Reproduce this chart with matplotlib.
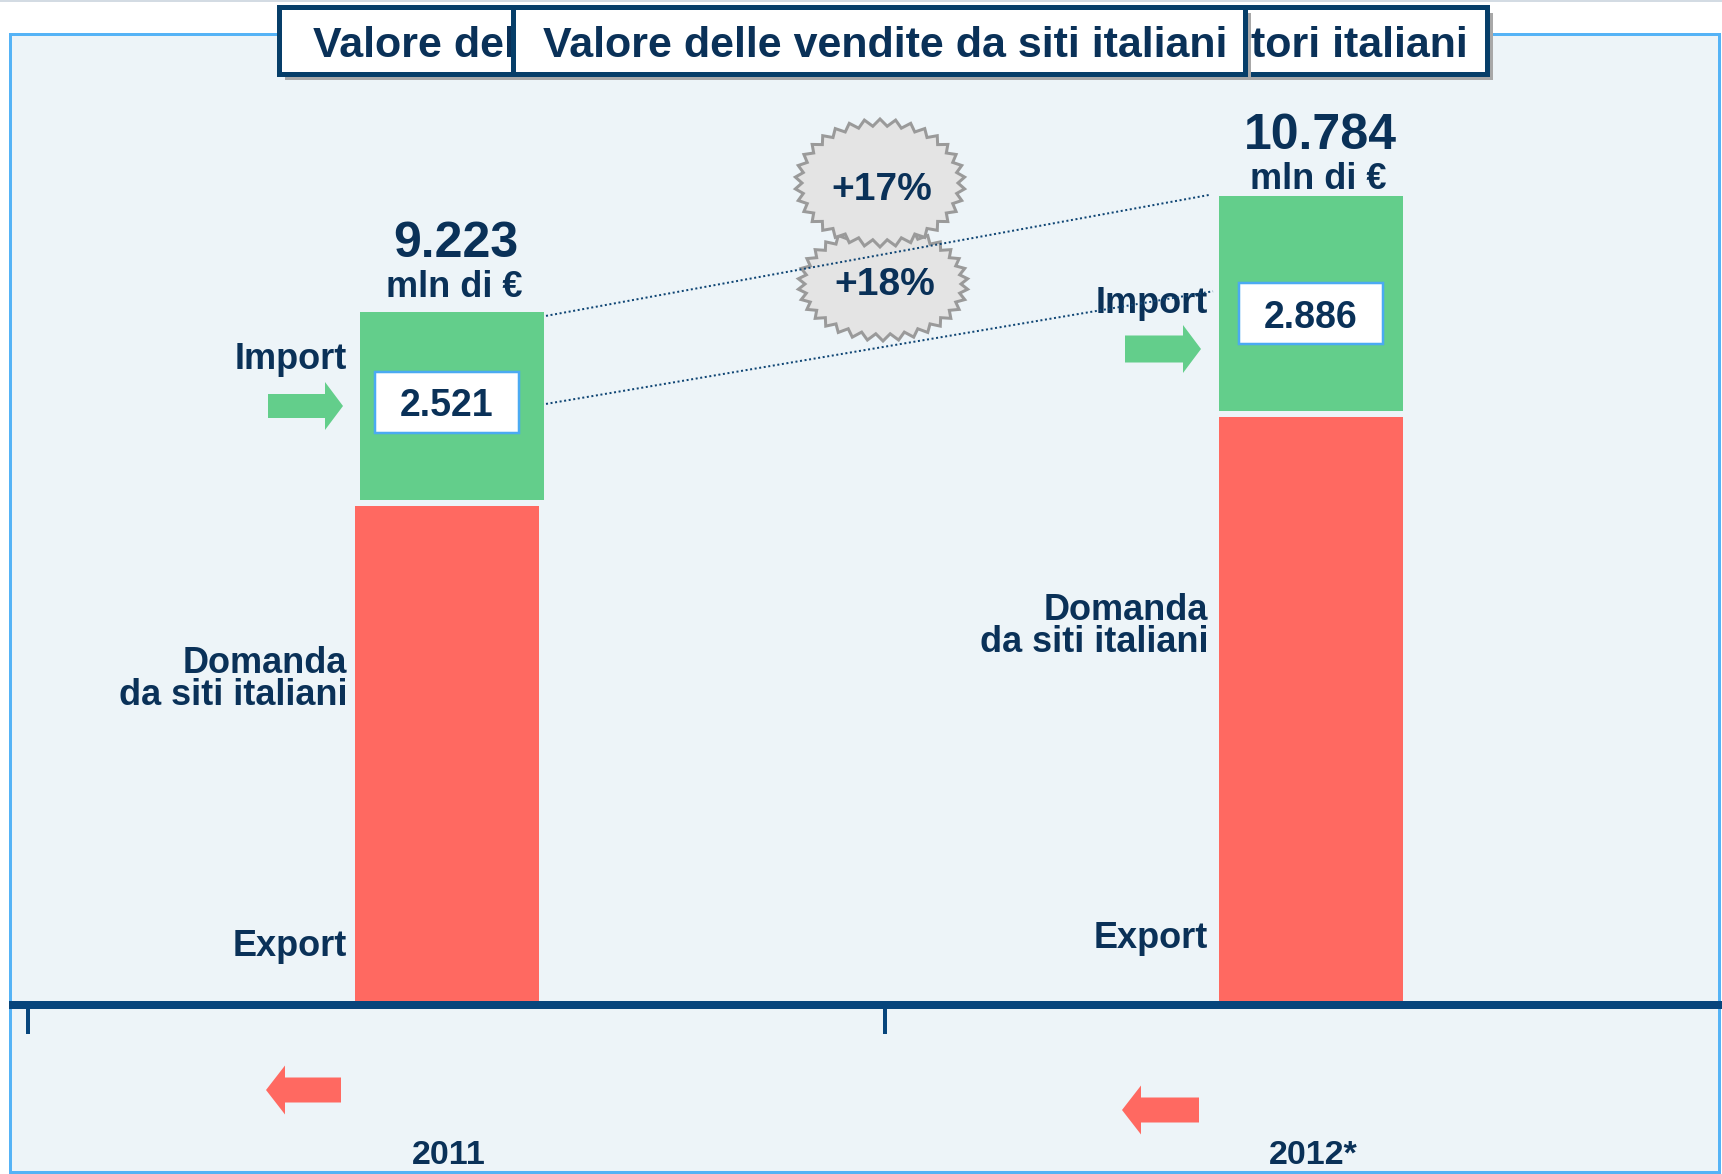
import numpy as np
import matplotlib
matplotlib.use('Agg')
import matplotlib.pyplot as plt
from matplotlib.patches import Rectangle, Polygon, FancyArrow

# ---------------- data ----------------
years = ['2011', '2012*']
domanda_export = [6702, 7898]      # mln di € (domanda da siti italiani + export)
imports = [2521, 2886]             # mln di €
total_labels = ['9.223', '10.784']
import_labels = ['2.521', '2.886']
growth_labels = ['+17%', '+18%']
unit_label = 'mln di €'
title_main = 'Valore delle vendite da siti italiani'
title_back_left = 'Valore del'
title_back_right = 'tori italiani'
lbl_import = 'Import'
lbl_domanda = ['Domanda', 'da siti italiani']
lbl_export = 'Export'

# ---------------- style ----------------
plt.rcParams['font.family'] = ['Liberation Sans', 'DejaVu Sans']
NAVY = '#0A3158'
RED = '#FF6961'
GREEN = '#63CE8B'
AXIS = '#07457C'
PANEL = '#EDF4F8'
PANEL_EDGE = '#55B3F6'
TB_EDGE = '#063E69'
SHADOW = '#A8A8A8'
BOX_EDGE = '#4BAAF2'
BADGE_FC = '#E4E4E4'
BADGE_EC = '#9A9A9A'
PT = 0.72   # points per pixel at dpi 100

W, H = 1722, 1174
fig = plt.figure(figsize=(W / 100, H / 100), dpi=100)
fig.patch.set_facecolor('white')

# decoration layer in pixel coordinates (y downward)
bg = fig.add_axes([0, 0, 1, 1], zorder=0)
bg.set_xlim(0, W)
bg.set_ylim(H, 0)
bg.axis('off')

# main data axes
ax = fig.add_axes([0, 0, 1, 1], zorder=1)
ax.patch.set_alpha(0)
X0_PX, XSTEP_PX = 447, 864      # pixel of first category, pixels per category
Y0_PX, K = 1005, 0.0745         # pixel of baseline, pixels per mln €
ax.set_xlim(-X0_PX / XSTEP_PX, (W - X0_PX) / XSTEP_PX)
ax.set_ylim(-(H - Y0_PX) / K, Y0_PX / K)


def dx(px):
    return px / XSTEP_PX


def dy(px):
    return px / K


def ypx(p):          # pixel row -> data y
    return (Y0_PX - p) / K


# panel
bg.add_patch(Rectangle((10, 34), 1709, 1138, fc=PANEL, ec=PANEL_EDGE, lw=3 * PT, zorder=0))
bg.plot([0, W], [0.8, 0.8], color='#D3DBE3', lw=2 * PT, zorder=0)

# title boxes
bg.add_patch(Rectangle((285, 12.5), 1208, 67, fc=SHADOW, ec='none', zorder=1))
bg.add_patch(Rectangle((279, 6.5), 1208, 67, fc='white', ec=TB_EDGE, lw=5 * PT, zorder=2))
bg.text(313, 57, title_back_left, ha='left', va='baseline', fontsize=31, fontweight='bold',
        color=NAVY, zorder=3)
bg.text(1468, 57, title_back_right, ha='right', va='baseline', fontsize=31, fontweight='bold',
        color=NAVY, zorder=3)
bg.add_patch(Rectangle((519, 12.5), 732, 67, fc=SHADOW, ec='none', zorder=4))
bg.add_patch(Rectangle((513, 6.5), 732, 67, fc='white', ec=TB_EDGE, lw=5 * PT, zorder=5))
bg.text(885, 57, title_main, ha='center', va='baseline', fontsize=31, fontweight='bold',
        color=NAVY, zorder=6)


# growth badges
def star(cx, cy, rx, ry, n=34, depth=7):
    t = np.linspace(0, 2 * np.pi, 2 * n, endpoint=False) - np.pi / 2
    d = np.where(np.arange(2 * n) % 2 == 0, 0, depth)
    return np.column_stack([cx + (rx - d) * np.cos(t), cy + (ry - d) * np.sin(t)])


badges = [(880, 183, 85, 64), (883, 284, 85, 57)]
badge_text_y = [200, 295]
for i in [1, 0]:
    cx, cy, rx, ry = badges[i]
    bg.add_patch(Polygon(star(cx, cy, rx, ry), closed=True, fc=BADGE_FC, ec=BADGE_EC,
                         lw=3 * PT, zorder=7 + 2 * (1 - i)))
    bg.text(cx + 2, badge_text_y[i], growth_labels[i], ha='center', va='baseline',
            fontsize=28, fontweight='bold', color=NAVY, zorder=8 + 2 * (1 - i))

# ---------------- bars ----------------
x = np.arange(len(years))
w = dx(184)
gap = dy(6)
dom = np.array(domanda_export, dtype=float)
imp = np.array(imports, dtype=float)
ax.bar(x, dom, w, color=RED, zorder=2)
g_bottom = dom + gap
ax.bar(x + np.array([dx(5), 0]), imp, w, bottom=g_bottom, color=GREEN, zorder=2)
g_top = g_bottom + imp

# baseline axis with ticks
for s in ['top', 'right', 'left']:
    ax.spines[s].set_visible(False)
ax.spines['bottom'].set_position(('data', 0))
ax.spines['bottom'].set_color(AXIS)
ax.spines['bottom'].set_linewidth(8 * PT)
ax.spines['bottom'].set_capstyle('butt')
ax.spines['bottom'].set_bounds(dx(9 - X0_PX), dx(W - X0_PX))
ax.spines['bottom'].set_zorder(3)
ax.set_xticks([dx(28 - X0_PX), dx(885 - X0_PX)])
ax.tick_params(axis='x', direction='out', length=29 * PT, width=4 * PT, color=AXIS,
               labelbottom=False)
ax.set_yticks([])

# year labels
for xi, yr in zip(x, years):
    ax.text(xi + dx(2), ypx(1164), yr, ha='center', va='baseline', fontsize=24.5,
            fontweight='bold', color=NAVY)

# totals and units above bars
num_base = [257, 149]
unit_base = [297, 189]
for i, xi in enumerate(x):
    ax.text(xi + dx(9), ypx(num_base[i]), total_labels[i], ha='center', va='baseline',
            fontsize=36, fontweight='bold', color=NAVY, zorder=5)
    ax.text(xi + dx(7), ypx(unit_base[i]), unit_label, ha='center', va='baseline',
            fontsize=26, fontweight='bold', color=NAVY, zorder=5)

# import value boxes
box_cy = [402.5, 313.5]
for i, xi in enumerate(x):
    ax.add_patch(Rectangle((xi - dx(72), ypx(box_cy[i]) - dy(30.5)), dx(144), dy(61),
                           fc='white', ec=BOX_EDGE, lw=2.5 * PT, zorder=4))
    ax.text(xi, ypx(box_cy[i] + 14), import_labels[i], ha='center', va='baseline',
            fontsize=27, fontweight='bold', color=NAVY, zorder=5)

# side labels (right-aligned to the left of each bar)
lab_right = [dx(-8), dx(-11)]
import_base = [369, 313]
dom_base = [(673, 705), (620, 652)]
export_base = [956, 948]
for i, xi in enumerate(x):
    xr = xi - w / 2 + lab_right[i]
    ax.text(xr, ypx(import_base[i]), lbl_import, ha='right', va='baseline', fontsize=26,
            fontweight='bold', color=NAVY, zorder=5)
    for ln, b in zip(lbl_domanda, dom_base[i]):
        ax.text(xr, ypx(b), ln, ha='right', va='baseline', fontsize=26,
                fontweight='bold', color=NAVY, zorder=5)
    ax.text(xr, ypx(export_base[i]), lbl_export, ha='right', va='baseline', fontsize=26,
            fontweight='bold', color=NAVY, zorder=5)

# import arrows (pointing right) and export arrows (pointing left)
g_arrows = [(268, 343, 406, 24), (1125, 1201, 349, 27)]
for (x0, x1, cy, bw) in g_arrows:
    bg.add_patch(FancyArrow(x0, cy, x1 - x0, 0, width=bw, head_width=48, head_length=18,
                            length_includes_head=True, fc=GREEN, ec='none', zorder=3))
r_arrows = [(341, 266, 1090, 25), (1199, 1122, 1110, 25)]
for (x0, x1, cy, bw) in r_arrows:
    bg.add_patch(FancyArrow(x0, cy, x1 - x0, 0, width=bw, head_width=49, head_length=19,
                            length_includes_head=True, fc=RED, ec='none', zorder=3))

# dotted connector lines
line_frac = [0.51, 0.555]
xl = x[0] + w / 2 + dx(7)
xr_ = x[1] - w / 2 - dx(8)
ax.plot([xl, xr_], [g_top[0] - dy(4), g_top[1] + dy(1)], color='#0F4574',
        lw=2 * PT, ls=(0, (1, 1.3)), zorder=6)
ax.plot([xl, xr_ + dx(2)], [g_bottom[0] + line_frac[0] * imp[0],
                            g_bottom[1] + line_frac[1] * imp[1]],
        color='#0F4574', lw=2 * PT, ls=(0, (1, 1.3)), zorder=6)

fig.savefig('out.png', dpi=100, facecolor='white')
